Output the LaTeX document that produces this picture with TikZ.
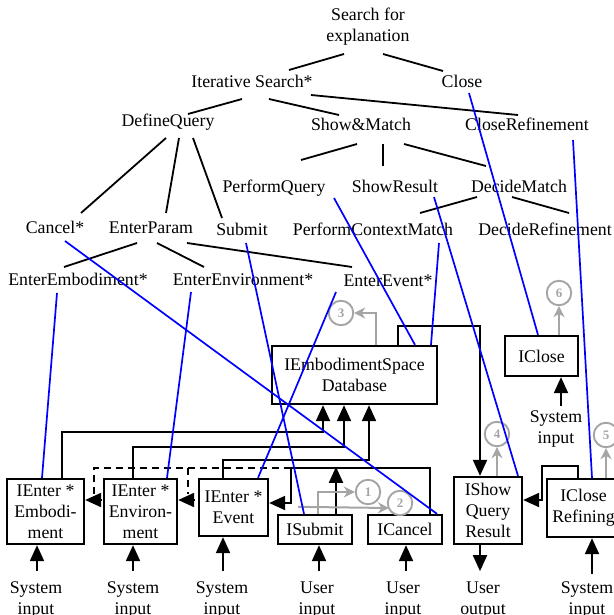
\documentclass[tikz,border=0pt]{standalone}
\usepackage{fontspec}
\setmainfont{Liberation Serif}
\usetikzlibrary{arrows.meta,calc}

\definecolor{linkblue}{RGB}{0,0,255}
\definecolor{stepgray}{RGB}{165,165,165}

\begin{document}
\begin{tikzpicture}[x=1pt,y=-1pt,
  every node/.style={font=\fontsize{17.8}{21}\selectfont, inner sep=0pt},
  task/.style={anchor=base},
  treeline/.style={line width=1.8pt},
  link/.style={linkblue, line width=1.7pt},
  ibox/.style={draw, line width=2.3pt, align=center},
  wire/.style={line width=2pt},
  dashwire/.style={line width=2pt, dash pattern=on 7pt off 5pt},
  tri/.style={-{Triangle[length=16pt,width=14pt]}},
  gwire/.style={stepgray, line width=2pt, -{Stealth[length=11pt,width=11pt,inset=3.5pt]}},
  marker/.style={circle, draw=stepgray, line width=1.9pt, minimum size=24.5pt,
    text=stepgray, font=\fontsize{13}{13}\selectfont\bfseries},
  io/.style={anchor=base, align=center},
]
\useasboundingbox (0,0) rectangle (613,615);

% task tree
\node[align=center] (root) at (368,26.5) {Search for\\explanation};
\node[task] (iter) at (252,88) {Iterative Search*};
\node[task] (close) at (462,88) {Close};
\node[task] (defq) at (168,126) {DefineQuery};
\node[task] (showm) at (361,131) {Show\&Match};
\node[task] (closeref) at (527,131) {CloseRefinement};
\node[task] (pq) at (274,192) {PerformQuery};
\node[task] (sr) at (395,192) {ShowResult};
\node[task] (dm) at (519,192) {DecideMatch};
\node[task] (cancel) at (55,233) {Cancel*};
\node[task] (ep) at (151,233) {EnterParam};
\node[task] (submit) at (242,235) {Submit};
\node[task] (pcm) at (373,235) {PerformContextMatch};
\node[task] (dr) at (545,235) {DecideRefinement};
\node[task] (emb) at (78,285) {EnterEmbodiment*};
\node[task] (env) at (243,285) {EnterEnvironment*};
\node[task] (ev) at (388,286) {EnterEvent*};

\draw[treeline] ($(root.center)+(-24,27.5)$) -- ($(iter.base)+(37,-18)$);
\draw[treeline] ($(root.center)+(15,27.5)$) -- ($(close.base)+(-19,-17)$);
\draw[treeline] ($(iter.base)+(-10,11)$) -- ($(defq.base)+(20,-12)$);
\draw[treeline] ($(iter.base)+(17,11)$) -- ($(showm.base)+(-22,-16)$);
\draw[treeline] ($(iter.base)+(59,7)$) -- ($(closeref.base)+(-9,-16)$);
\draw[treeline] ($(defq.base)+(-2,12)$) -- ($(cancel.base)+(26,-20)$);
\draw[treeline] ($(defq.base)+(11,12)$) -- ($(ep.base)+(15,-20)$);
\draw[treeline] ($(defq.base)+(25,12)$) -- ($(submit.base)+(-20,-17)$);
\draw[treeline] ($(showm.base)+(-4,13)$) -- ($(pq.base)+(27,-32)$);
\draw[treeline] ($(showm.base)+(22,13)$) -- ($(sr.base)+(-12,-26)$);
\draw[treeline] ($(showm.base)+(43,13)$) -- ($(dm.base)+(-33,-26)$);
\draw[treeline] ($(dm.base)+(-42,5)$) -- ($(pcm.base)+(47,-22)$);
\draw[treeline] ($(dm.base)+(-7,5)$) -- ($(dr.base)+(24,-22)$);
\draw[treeline] ($(ep.base)+(-14,10)$) -- ($(emb.base)+(-14,-18)$);
\draw[treeline] ($(ep.base)+(6,10)$) -- ($(env.base)+(-39,-18)$);
\draw[treeline] ($(ep.base)+(36,10)$) -- ($(ev.base)+(-36,-19)$);

% interactor boxes
\node[ibox, minimum width=77pt, minimum height=65pt] (iemb) at (45.5,511.5) {IEnter *\\Embodi-\\ment};
\node[ibox, minimum width=73pt, minimum height=65pt] (ienv) at (140.5,511.5) {IEnter *\\Environ-\\ment};
\node[ibox, minimum width=69pt, minimum height=57pt] (ievent) at (233.5,507.5) {IEnter *\\Event};
\node[ibox, minimum width=74pt, minimum height=29pt] (isubmit) at (315,529.5) {ISubmit};
\node[ibox, minimum width=74pt, minimum height=29pt] (icancel) at (405,529.5) {ICancel};
\node[ibox, minimum width=68pt, minimum height=67pt] (ishow) at (488,510.5) {IShow\\Query\\Result};
\node[ibox, minimum width=73pt, minimum height=58pt] (icloseref) at (583.5,508) {IClose\\Refining};
\node[ibox, minimum width=73pt, minimum height=40pt] (iclose) at (541.5,356) {IClose};
\node[ibox, minimum width=165pt, minimum height=58pt] (db) at (354.5,375) {IEmbodimentSpace\\Database};

% data flow into the database
\draw[wire,tri] ($(iemb.north)+(16.5,0)$) |- ($(db.south)+(-31.5,27)$) -- ($(db.south)+(-31.5,0)$);
\draw[wire,tri] ($(ienv.north)+(-7.5,0)$) |- ($(db.south)+(-10.5,42)$) -- ($(db.south)+(-10.5,0)$);
\draw[wire,tri] ($(ievent.north)+(-10.5,0)$) |- ($(db.south)+(14.5,55)$) -- ($(db.south)+(14.5,0)$);

% database to result display, refining feedback
\draw[wire,tri] ($(db.north)+(43.5,0)$) -- ++(0,-19) -| ($(ishow.north)+(-8,0)$);
\draw[wire,tri] ($(icloseref.north)+(-5.5,0)$) -- ++(0,-12) -| ($(ishow.east)+(19,-10.5)$) -- ($(ishow.east)+(0,-10.5)$);

% cancel / submit bus
\draw[wire,tri] ($(icancel.north)+(25,0)$) |- ($(ievent.east)+(22,-39.5)$) |- ($(ievent.east)+(0,-4.5)$);
\draw[wire,tri] ($(isubmit.north)+(21,0)$) -- ($(isubmit.north)+(21,-47)$);
\draw[dashwire] ($(ievent.east)+(22,-39.5)$) -| ($(iemb.east)+(9,-18)$);
\draw[dashwire] ($(ienv.east)+(10,-43.5)$) -- ($(ienv.east)+(10,-18)$);
\draw[wire,tri] ($(iemb.east)+(16,-11.5)$) -- ($(iemb.east)+(0,-11.5)$);
\draw[wire,tri] ($(ienv.east)+(16,-11.5)$) -- ($(ienv.east)+(0,-11.5)$);

% numbered steps
\node[marker] (m1) at (368,492) {1};
\node[marker] (m2) at (400,503) {2};
\node[marker] (m3) at (341,313) {3};
\node[marker] (m4) at (497,434) {4};
\node[marker] (m5) at (606,435) {5};
\node[marker] (m6) at (559,293) {6};
\draw[gwire] ($(db.north)+(21.5,0)$) |- (m3.east);
\draw[gwire] ($(isubmit.north)+(3,0)$) |- (m1.west);
\draw[gwire] ($(isubmit.north)+(-17,-7)$) -- ($(m2.center)+(-11,5)$);
\draw[gwire] ($(ishow.north)+(9,0)$) -- (m4.south);
\draw[gwire] ($(iclose.north)+(17.5,0)$) -- (m6.south);
\draw[gwire] ($(icloseref.north)+(22.5,0)$) -- (m5.south);

% inputs and outputs (anchored at the baseline of the last line)
\node[io] (in1) at (36,614) {System\\input};
\node[io] (in2) at (133,614) {System\\input};
\node[io] (in3) at (222,614) {System\\input};
\node[io] (in4) at (317,614) {User\\input};
\node[io] (in5) at (403,614) {User\\input};
\node[io] (out1) at (483,614) {User\\output};
\node[io] (in6) at (587,614) {System\\input};
\node[io] (in7) at (556,443) {System\\input};
\draw[wire,tri] ($(iemb.south)+(-8.5,26)$) -- ($(iemb.south)+(-8.5,0)$);
\draw[wire,tri] ($(ienv.south)+(-7.5,26)$) -- ($(ienv.south)+(-7.5,0)$);
\draw[wire,tri] ($(ievent.south)+(-10.5,34)$) -- ($(ievent.south)+(-10.5,0)$);
\draw[wire,tri] ($(isubmit.south)+(4,26)$) -- ($(isubmit.south)+(4,0)$);
\draw[wire,tri] ($(icancel.south)+(1,26)$) -- ($(icancel.south)+(1,0)$);
\draw[wire,tri] ($(ishow.south)+(-8,0)$) -- ($(ishow.south)+(-8,26)$);
\draw[wire,tri] ($(icloseref.south)+(8.5,36)$) -- ($(icloseref.south)+(8.5,0)$);
\draw[wire,tri] ($(iclose.south)+(19.5,29)$) -- ($(iclose.south)+(19.5,0)$);

% task-to-interactor links
\draw[link] ($(close.base)+(7,5)$) -- ($(iclose.north)+(-3.5,0)$);
\draw[link] ($(closeref.base)+(46,9)$) -- ($(icloseref.north)+(8.5,0)$);
\draw[link] ($(pq.base)+(60,6)$) -- ($(db.north)+(60.5,0)$);
\draw[link] ($(sr.base)+(39,5)$) -- ($(ishow.north)+(30,0)$);
\draw[link] ($(pcm.base)+(66,8)$) -- ($(db.north)+(76.5,0)$);
\draw[link] ($(cancel.base)+(10,8)$) -- ($(icancel.north)+(32,0)$);
\draw[link] ($(submit.base)+(4,8)$) -- ($(isubmit.north)+(-11,0)$);
\draw[link] ($(ev.base)+(-52,6)$) -- ($(ievent.north)+(24.5,0)$);
\draw[link] ($(emb.base)+(-21,8)$) -- ($(iemb.north)+(-3.5,0)$);
\draw[link] ($(env.base)+(-52,7)$) -- ($(ienv.north)+(26.5,0)$);
\end{tikzpicture}
\end{document}
